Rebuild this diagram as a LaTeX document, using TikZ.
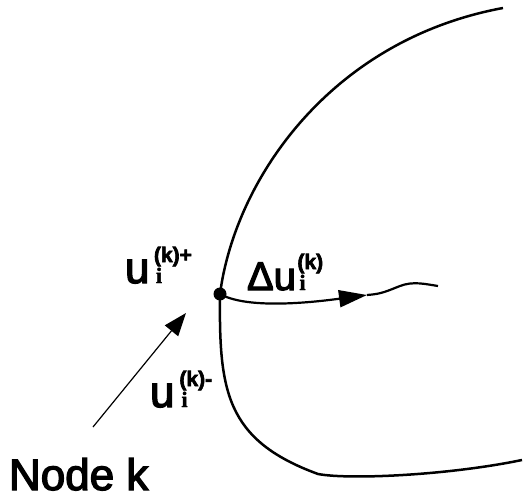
\documentclass[tikz,border=0pt]{standalone}
\usepackage{fontspec}
\setmainfont{Liberation Sans}[FakeBold=3,BoldFont=Liberation Sans Bold]
\newfontfamily\serifb{Liberation Serif Bold}[FakeBold=2]
\usetikzlibrary{arrows.meta}
\newcommand\bigu{\fontsize{44pt}{44pt}\selectfont}
\newcommand\supf{\fontsize{21pt}{21pt}\selectfont\bfseries}
\newcommand\subf{\serifb\fontsize{22pt}{22pt}\selectfont}
% #1 base text, #2 superscript tail, #3 kern before scripts
\newcommand\ulab[3]{#1\kern#3\rlap{\kern2pt\subf i}\raisebox{21pt}{\supf (k)#2}}
\tikzset{
  curve/.style={line width=2.5pt},
  lab/.style={anchor=base west, inner sep=0pt, outer sep=0pt},
  pointer/.style={line width=1.2pt, -{Triangle[length=23pt,width=17pt]}},
  flow/.style={line width=2.2pt, -{Triangle[length=28pt,width=17pt]}}
}
\begin{document}
\begin{tikzpicture}[x=1pt,y=-1pt]
\useasboundingbox (0,0) rectangle (525,500);
% boundary curves
\node[circle, fill=black, inner sep=0pt, minimum size=13pt] (dot) at (220,294) {};
\coordinate (top) at (503,8);
\coordinate (low) at (318,474);
\coordinate (br) at (522,460);
\draw[curve] (dot.center) .. controls (235,180) and (330,40) .. (top);
\draw[curve] (dot.center) .. controls (219,390) and (225,440) .. (low)
  .. controls (350,480) and (450,475) .. (br);
% flow arrow
\coordinate (tip) at (367,295);
\coordinate (fend) at (438,286);
\draw[flow] (dot.center) .. controls (245,308) and (300,304) .. (tip);
\draw[line width=2.2pt] (tip) .. controls (382,294) and (387,291) .. (400,286)
  .. controls (413,281) and (425,284) .. (fend);
% pointer arrow
\coordinate (ptail) at (93,427);
\coordinate (ptip) at (186,313);
\draw[pointer] (ptail) -- (ptip);
% labels
\node[lab] (uplus) at (125,283) {\ulab{\bigu u}{+}{4.5pt}};
\node[lab] (du) at (247,290) {\ulab{\fontsize{40pt}{40pt}\selectfont Δu}{}{1.5pt}};
\node[lab] (uminus) at (150,407) {\ulab{\bigu u}{-}{5pt}};
\node[lab] (nodek) at (9,490) {\fontsize{44pt}{44pt}\selectfont Node k};
\end{tikzpicture}
\end{document}
